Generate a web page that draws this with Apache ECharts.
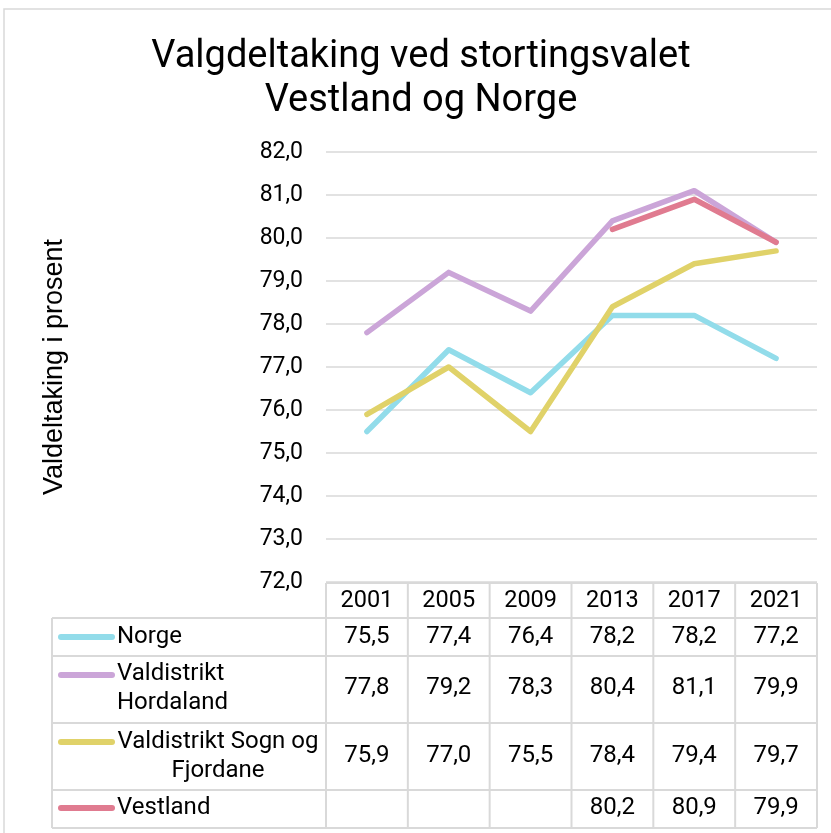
<!DOCTYPE html>
<html>
<head>
<meta charset="utf-8">
<script src="https://cdn.jsdelivr.net/npm/echarts@6/dist/echarts.min.js"></script>
<style>
html,body{margin:0;padding:0;background:#fff;}
#chart{width:831px;height:833px;}
</style>
</head>
<body>
<div id="chart"></div>
<script>
const years = ['2001', '2005', '2009', '2013', '2017', '2021'];
const norge = [75.5, 77.4, 76.4, 78.2, 78.2, 77.2];
const hordaland = [77.8, 79.2, 78.3, 80.4, 81.1, 79.9];
const sogn = [75.9, 77.0, 75.5, 78.4, 79.4, 79.7];
const vestland = [null, null, null, 80.2, 80.9, 79.9];
const seriesNames = ['Norge', 'Valdistrikt Hordaland', 'Valdistrikt Sogn og Fjordane', 'Vestland'];
const legendLabels = ['Norge', 'Valdistrikt\nHordaland', 'Valdistrikt Sogn og\nFjordane', 'Vestland'];
const colors = ['#92dcea', '#cba5d8', '#e0d269', '#e07b90'];
const titleText = 'Valgdeltaking ved stortingsvalet\nVestland og Norge';
const yName = 'Valdeltaking i prosent';

const allSeries = [norge, hordaland, sogn, vestland];
const fmt = v => (v === null || v === undefined) ? '' : v.toFixed(1).replace('.', ',');
const FONT = 'Roboto, "Noto Sans", sans-serif';

const chart = echarts.init(document.getElementById('chart'));
chart.setOption({
  backgroundColor: '#fff',
  animation: false,
  title: {
    text: titleText,
    left: 416, top: 30,
    textAlign: 'center',
    textStyle: { fontFamily: FONT, fontSize: 38, fontWeight: 'normal', color: '#000', lineHeight: 44 }
  },
  grid: { left: 326, right: 14, top: 152, bottom: 251, containLabel: false },
  xAxis: {
    type: 'category',
    data: years,
    boundaryGap: true,
    axisLine: { show: false },
    axisTick: { show: false },
    axisLabel: { margin: 7, fontFamily: FONT, fontSize: 23.5, color: '#000' },
    splitLine: { show: false }
  },
  yAxis: {
    type: 'value',
    min: 72, max: 82, interval: 1,
    name: yName,
    nameLocation: 'middle',
    nameGap: 258,
    nameTextStyle: { fontFamily: '"Liberation Sans", Arial, sans-serif', fontSize: 27, color: '#000' },
    axisLine: { show: false },
    axisTick: { show: false },
    axisLabel: { margin: 23, fontFamily: FONT, fontSize: 23, color: '#000', formatter: v => fmt(v) },
    splitLine: { lineStyle: { color: '#d9d9d9', width: 1.5 } }
  },
  series: allSeries.map((d, i) => ({
    name: seriesNames[i],
    type: 'line',
    data: d,
    symbol: 'none',
    smooth: false,
    connectNulls: false,
    lineStyle: { color: colors[i], width: 5.5, cap: 'round', join: 'round' },
    itemStyle: { color: colors[i] },
    z: 2 + i
  }))
});

// Build data table below the plot, column positions from the category axis
const centers = years.map(y => chart.convertToPixel({ xAxisIndex: 0 }, y));
const half = (centers[1] - centers[0]) / 2;
const colEdges = [centers[0] - half].concat(centers.map(c => c + half));
const tableLeft = 52;
const headerTop = 583;
const rowEdges = [618, 656, 723, 790, 828];
const rowTextY = [637, 688, 756, 808];
const swatchY = [637, 675, 742, 808];
const gridColor = '#d9d9d9';
const right = colEdges[colEdges.length - 1];

const els = [];
// outer frame
els.push({ type: 'rect', shape: { x: 4, y: 9, width: 1000, height: 1000 }, style: { fill: 'none', stroke: gridColor, lineWidth: 1.5 }, silent: true });
// header top line
els.push({ type: 'line', shape: { x1: colEdges[0], y1: headerTop, x2: right, y2: headerTop }, style: { stroke: gridColor, lineWidth: 2 }, z: 10 });
rowEdges.forEach(y => {
  els.push({ type: 'line', shape: { x1: tableLeft, y1: y, x2: right, y2: y }, style: { stroke: gridColor, lineWidth: 2 }, z: 10 });
});
els.push({ type: 'line', shape: { x1: tableLeft, y1: rowEdges[0], x2: tableLeft, y2: rowEdges[rowEdges.length - 1] }, style: { stroke: gridColor, lineWidth: 2 }, z: 10 });
colEdges.forEach(x => {
  els.push({ type: 'line', shape: { x1: x, y1: headerTop, x2: x, y2: rowEdges[rowEdges.length - 1] }, style: { stroke: gridColor, lineWidth: 2 }, z: 10 });
});
// legend keys and labels
allSeries.forEach((d, r) => {
  els.push({ type: 'line', shape: { x1: 61, y1: swatchY[r], x2: 112, y2: swatchY[r] }, style: { stroke: colors[r], lineWidth: 6, lineCap: 'round' }, z: 11 });
  const alignCenter = r === 2;
  els.push({
    type: 'text', z: 11,
    style: {
      text: legendLabels[r],
      x: alignCenter ? 218 : 117, y: rowTextY[r],
      font: '24px ' + FONT, fill: '#000',
      textAlign: alignCenter ? 'center' : 'left', align: alignCenter ? 'center' : 'left',
      textVerticalAlign: 'middle', verticalAlign: 'middle',
      lineHeight: 29
    }
  });
  d.forEach((v, c) => {
    els.push({
      type: 'text', z: 11,
      style: {
        text: fmt(v), x: centers[c], y: rowTextY[r],
        font: '24px ' + FONT, fill: '#000',
        textAlign: 'center', align: 'center',
        textVerticalAlign: 'middle', verticalAlign: 'middle'
      }
    });
  });
});
chart.setOption({ graphic: { elements: els } });
</script>
</body>
</html>
